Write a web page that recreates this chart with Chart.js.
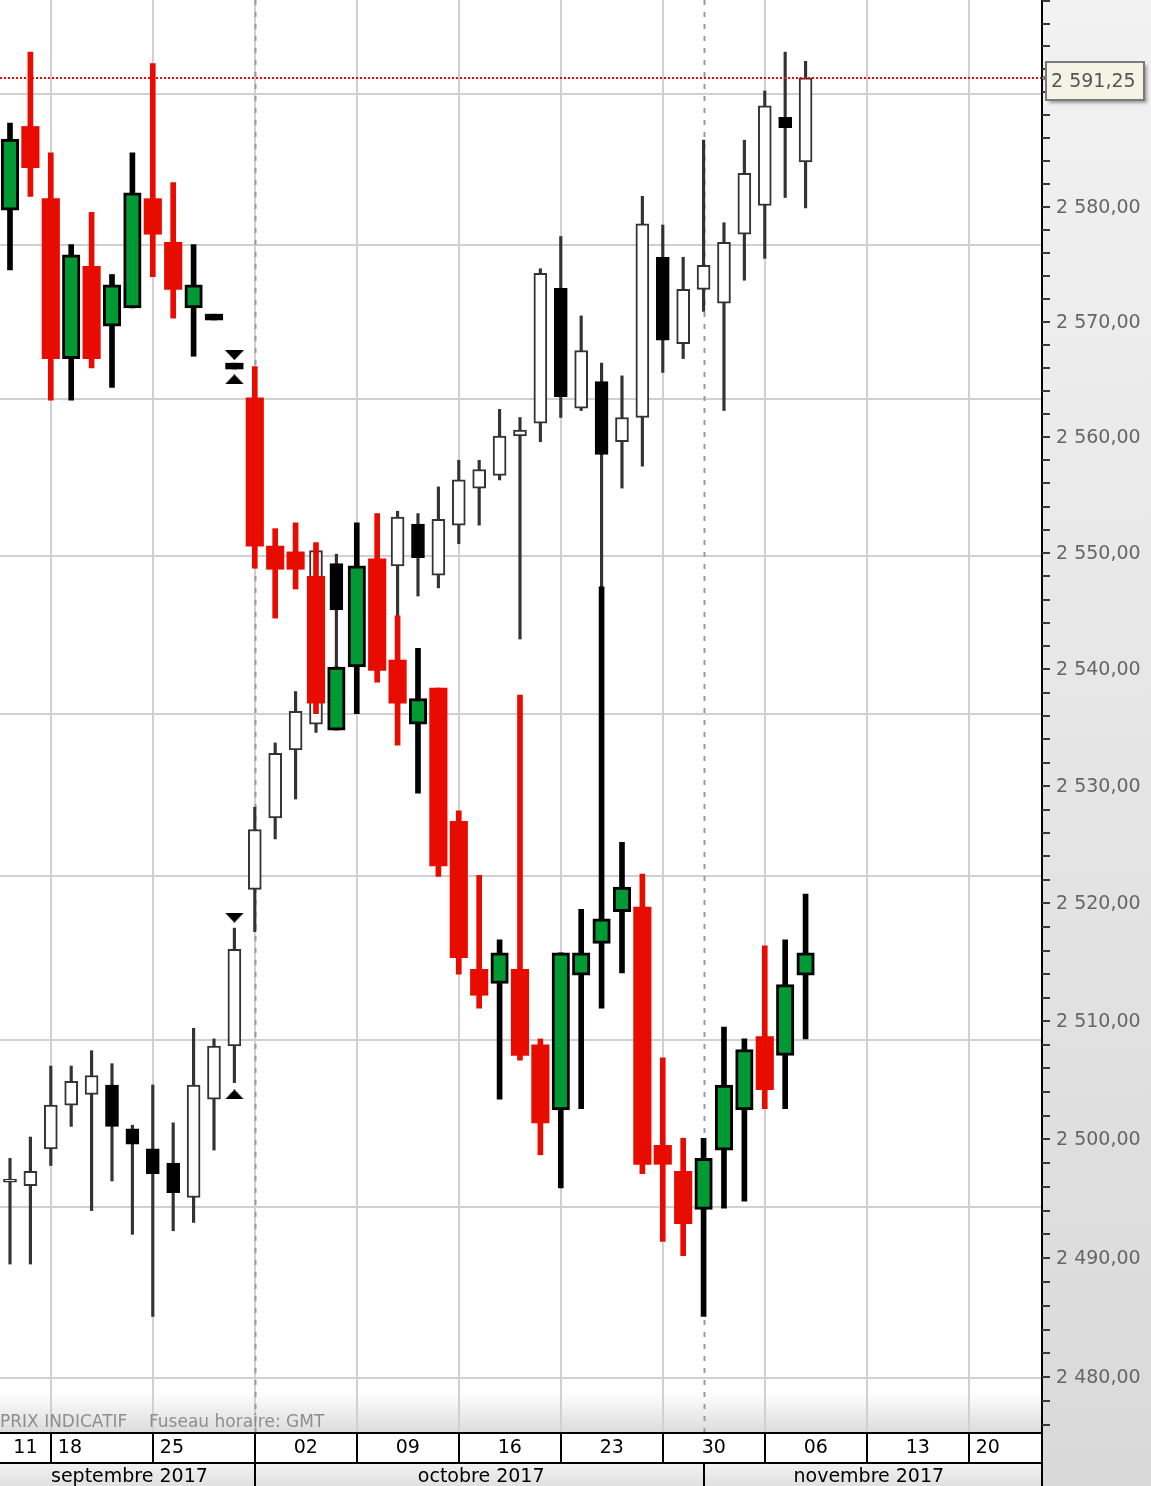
<!DOCTYPE html>
<html>
<head>
<meta charset="utf-8">
<script src="https://cdn.jsdelivr.net/npm/chart.js@4.4.0/dist/chart.umd.min.js"></script>
<style>
    html, body { margin: 0; padding: 0; background: #fff; }
    #wrap { position: relative; width: 1151px; height: 1486px; }
</style>
</head>
<body>
<div id="wrap"><canvas id="chart"></canvas></div>
<script>
// Trading days (index = position on the x axis)
const days = ['14/09','15/09','18/09','19/09','20/09','21/09','22/09','25/09','26/09','27/09',
              '28/09','29/09','02/10','03/10','04/10','05/10','06/10','09/10','10/10','11/10',
              '12/10','13/10','16/10','17/10','18/10','19/10','20/10','23/10','24/10','25/10',
              '26/10','27/10','30/10','31/10','01/11','02/11','03/11','06/11','07/11','08/11'];

// Red / green candles
const rgOpen  = [2579.7,2587.0,2580.7,2566.8,2574.8,2569.6,2571.2,2580.7,2576.9,2571.2,
                 2570.15,2565.9,2563.4,2550.6,2550.1,2548.0,2534.8,2540.2,2549.5,2540.8,
                 2535.3,2538.4,2527.0,2514.4,2513.2,2514.4,2508.0,2502.5,2513.9,2516.6,
                 2519.3,2519.7,2499.5,2497.3,2494.1,2499.1,2502.5,2508.7,2507.1,2513.9];
const rgHigh  = [2587.3,2593.5,2584.7,2576.7,2579.5,2574.1,2584.7,2592.5,2582.1,2576.7,
                 2570.65,2566.4,2566.1,2552.1,2552.6,2550.9,2540.2,2552.6,2553.4,2544.6,
                 2541.8,2538.4,2527.9,2522.4,2516.9,2537.8,2508.5,2515.8,2519.5,2547.1,
                 2525.2,2522.5,2506.9,2500.1,2500.1,2509.5,2508.5,2516.4,2516.9,2520.8];
const rgLow   = [2574.5,2580.9,2563.2,2563.2,2566.0,2564.3,2571.2,2573.9,2570.3,2567.0,
                 2570.15,2565.9,2548.7,2544.4,2546.9,2536.2,2534.8,2536.2,2538.9,2533.5,
                 2529.4,2522.3,2514.0,2511.1,2503.4,2506.7,2498.7,2495.9,2502.6,2511.1,
                 2514.1,2497.1,2491.4,2490.2,2485.1,2494.2,2494.8,2502.6,2502.6,2508.5];
const rgClose = [2585.9,2583.4,2566.8,2575.8,2566.8,2573.2,2581.2,2577.6,2572.8,2573.2,
                 2570.65,2566.4,2550.6,2548.6,2548.6,2537.1,2540.2,2548.9,2539.9,2537.1,
                 2537.5,2523.2,2515.4,2512.2,2515.8,2507.1,2501.4,2515.8,2515.8,2518.7,
                 2521.4,2497.9,2497.9,2492.9,2498.4,2504.6,2507.6,2504.2,2513.1,2515.8];

// Black / white candles
const bwOpen  = [2496.4,2496.1,2499.2,2502.9,2503.8,2504.6,2500.9,2499.2,2498.0,2495.1,
                 2503.4,2507.9,2521.2,2527.3,2533.1,2535.3,2549.1,2544.5,2546.0,2548.9,
                 2552.5,2548.1,2552.4,2555.6,2556.7,2560.1,2561.2,2572.9,2562.5,2564.8,
                 2559.6,2561.7,2575.6,2568.1,2572.8,2571.6,2577.6,2580.1,2587.8,2583.9];
const bwHigh  = [2498.4,2500.2,2506.2,2506.2,2507.5,2506.4,2501.2,2504.6,2501.4,2509.4,
                 2508.5,2517.9,2528.2,2533.7,2538.1,2550.6,2549.9,2548.0,2549.3,2553.6,
                 2553.4,2555.7,2558.0,2558.0,2562.4,2561.7,2574.6,2577.4,2570.5,2566.4,
                 2565.3,2580.9,2578.4,2575.6,2585.8,2578.6,2585.8,2590.1,2593.5,2592.7];
const bwLow   = [2489.5,2489.5,2497.8,2501.1,2494.0,2496.5,2492.0,2485.1,2492.3,2493.0,
                 2499.1,2504.8,2517.6,2525.5,2528.9,2534.6,2540.2,2541.5,2542.0,2544.6,
                 2546.3,2547.0,2550.8,2552.4,2556.3,2542.6,2559.6,2561.7,2562.3,2547.1,
                 2555.6,2557.5,2565.6,2566.8,2570.9,2562.3,2573.6,2575.5,2580.8,2579.9];
const bwClose = [2496.65,2497.3,2502.9,2504.9,2505.4,2501.1,2499.6,2497.1,2495.5,2504.6,
                 2507.9,2516.1,2526.3,2532.8,2536.4,2550.2,2545.1,2547.0,2549.0,2553.1,
                 2549.6,2552.9,2556.3,2557.2,2560.1,2560.6,2574.2,2563.5,2567.5,2558.5,
                 2561.7,2578.5,2568.4,2572.8,2574.9,2576.9,2582.9,2588.8,2586.9,2591.25];

// Signal markers (triangles above / below)
const signalDays   = [11, 11];
const signalAbove  = [2567.1, 2518.8];
const signalBelow  = [2565.0, 2503.8];

// Axis labels
const weekLabels  = ['11','18','25','02','09','16','23','30','06','13','20'];
const weekStart   = [-3, 2, 7, 12, 17, 22, 27, 32, 37, 42, 47];
const monthLabels = ['septembre 2017', 'octobre 2017', 'novembre 2017'];
const monthStart  = [-12, 12, 34];
const gridPrices  = [2589.87, 2576.62, 2563.26, 2549.78, 2536.2, 2522.37, 2508.43, 2494.28, 2479.98];
const priceMin = 2475.42, priceMax = 2598.07;
const lastPrice = bwClose[bwClose.length - 1];

const RED = '#e80c00', GREEN = '#009933';
const FONT = '"DejaVu Sans", Verdana, sans-serif';

function fmtPrice(v) {
    const parts = v.toFixed(2).split('.');
    return parts[0].replace(/\B(?=(\d{3})+(?!\d))/g, ' ') + ',' + parts[1];
}

function triangle(down) {
    const c = document.createElement('canvas');
    c.width = 19; c.height = 10;
    const g = c.getContext('2d');
    g.fillStyle = '#000';
    g.beginPath();
    if (down) { g.moveTo(0, 0); g.lineTo(19, 0); g.lineTo(9.5, 10); }
    else { g.moveTo(9.5, 0); g.lineTo(19, 10); g.lineTo(0, 10); }
    g.closePath();
    g.fill();
    return c;
}

const rgUp = rgClose.map((c, i) => c >= rgOpen[i]);
const bwUp = bwClose.map((c, i) => c >= bwOpen[i]);
// near-flat bodies render as a plain black dash
const rgFlat = rgClose.map((c, i) => Math.abs(c - rgOpen[i]) < 0.7);

function line(ctx, x1, y1, x2, y2) {
    ctx.beginPath();
    ctx.moveTo(x1, y1);
    ctx.lineTo(x2, y2);
    ctx.stroke();
}

// background, grid
const backdrop = {
    id: 'backdrop',
    beforeDraw(chart) {
        const { ctx, chartArea: a, scales: { x, y } } = chart;
        const W = chart.width, H = chart.height;
        ctx.save();
        ctx.fillStyle = '#fff';
        ctx.fillRect(0, 0, W, H);

        let g = ctx.createLinearGradient(0, 0, 0, H);
        g.addColorStop(0, '#f2f2f2');
        g.addColorStop(1, '#d9d9d9');
        ctx.fillStyle = g;
        ctx.fillRect(a.right, 0, W - a.right, H);

        g = ctx.createLinearGradient(0, a.bottom - 40, 0, a.bottom);
        g.addColorStop(0, '#ffffff');
        g.addColorStop(1, '#dcdcdc');
        ctx.fillStyle = g;
        ctx.fillRect(a.left, a.bottom - 40, a.right - a.left, 40);

        ctx.strokeStyle = '#d0d0d0';
        ctx.lineWidth = 2;
        gridPrices.forEach(p => {
            const py = Math.round(y.getPixelForValue(p));
            line(ctx, a.left, py, a.right - 1, py);
        });
        weekStart.forEach(i => {
            const px = Math.round(x.getPixelForValue(i));
            if (px > a.left + 2 && px < a.right - 2) line(ctx, px, a.top, px, a.bottom);
        });

        ctx.strokeStyle = '#9a9a9a';
        ctx.setLineDash([5, 7]);
        monthStart.forEach(i => {
            const px = Math.round(x.getPixelForValue(i)) + 0.5;
            if (px > a.left + 2 && px < a.right - 2) line(ctx, px, a.top, px, a.bottom);
        });
        ctx.setLineDash([]);

        ctx.font = '17px ' + FONT;
        ctx.fillStyle = '#8e8e8e';
        ctx.textBaseline = 'alphabetic';
        ctx.textAlign = 'left';
        ctx.fillText('PRIX INDICATIF', 0, a.bottom - 5);
        ctx.fillText('Fuseau horaire: GMT', 149, a.bottom - 5);
        ctx.restore();
    },
    afterDatasetsDraw(chart) {
        const { ctx, chartArea: a, scales: { y } } = chart;
        const py = Math.round(y.getPixelForValue(lastPrice));
        ctx.save();
        ctx.strokeStyle = '#ff0000';
        ctx.lineWidth = 2;
        ctx.setLineDash([2, 2]);
        line(ctx, a.left, py, a.right, py);
        ctx.restore();
    }
};

// price axis and date rows
const frame = {
    id: 'frame',
    afterDraw(chart) {
        const { ctx, chartArea: a, scales: { x, y } } = chart;
        const W = chart.width, H = chart.height;
        ctx.save();

        // date rows
        const r1 = a.bottom, r2 = a.bottom + 30;
        ctx.fillStyle = '#fff';
        ctx.fillRect(0, r1, a.right, 30);
        const g = ctx.createLinearGradient(0, r2, 0, H);
        g.addColorStop(0, '#f3f3f3');
        g.addColorStop(1, '#e0e0e0');
        ctx.fillStyle = g;
        ctx.fillRect(0, r2, a.right, H - r2);

        ctx.strokeStyle = '#000';
        ctx.lineWidth = 2;
        line(ctx, 0, r1 + 1, a.right, r1 + 1);
        line(ctx, 0, r2 + 1, a.right, r2 + 1);

        ctx.font = '19px ' + FONT;
        ctx.fillStyle = '#000';
        ctx.textBaseline = 'middle';
        const leftAligned = ['18', '25', '20'];
        weekStart.forEach((s, k) => {
            const x0 = Math.max(a.left, x.getPixelForValue(s));
            const x1 = k < weekStart.length - 1 ? Math.min(a.right, x.getPixelForValue(weekStart[k + 1])) : a.right;
            if (x0 > a.left + 2) line(ctx, Math.round(x0), r1, Math.round(x0), r2);
            if (leftAligned.includes(weekLabels[k])) {
                ctx.textAlign = 'left';
                ctx.fillText(weekLabels[k], x0 + 7, r1 + 16);
            } else {
                ctx.textAlign = 'center';
                ctx.fillText(weekLabels[k], (x0 + x1) / 2, r1 + 16);
            }
        });
        monthStart.forEach((s, k) => {
            const x0 = Math.max(a.left, x.getPixelForValue(s));
            const x1 = k < monthStart.length - 1 ? Math.min(a.right, x.getPixelForValue(monthStart[k + 1])) : a.right;
            if (x0 > a.left + 2) line(ctx, Math.round(x0), r2, Math.round(x0), H);
            ctx.textAlign = 'center';
            ctx.fillText(monthLabels[k], (x0 + x1) / 2 + (k === 2 ? -4 : 2), r2 + 15);
        });

        // price axis
        const ax = a.right;
        ctx.strokeStyle = '#000';
        ctx.lineWidth = 2;
        line(ctx, ax, 0, ax, H);
        ctx.strokeStyle = '#3a3a3a';
        ctx.fillStyle = '#666';
        ctx.textAlign = 'left';
        ctx.font = '19px ' + FONT;
        for (let v = Math.ceil(priceMin / 2) * 2; v <= priceMax; v += 2) {
            const py = Math.round(y.getPixelForValue(v));
            line(ctx, ax, py, ax + 8, py);
            if (v % 10 === 0) ctx.fillText(fmtPrice(v), ax + 14, py + 1);
        }

        // last price box
        const py = Math.round(y.getPixelForValue(lastPrice));
        const bx = ax + 4, by = py - 16, bw = 98, bh = 38;
        ctx.shadowColor = 'rgba(0,0,0,0.35)';
        ctx.shadowOffsetX = 3;
        ctx.shadowOffsetY = 3;
        ctx.shadowBlur = 3;
        ctx.fillStyle = '#f5f3e4';
        ctx.fillRect(bx, by, bw, bh);
        ctx.shadowColor = 'transparent';
        ctx.strokeStyle = '#7a7a7a';
        ctx.lineWidth = 2;
        ctx.strokeRect(bx, by, bw, bh);
        ctx.fillStyle = '#7a7a7a';
        ctx.beginPath();
        ctx.moveTo(ax - 1, py);
        ctx.lineTo(bx + 1, py - 4);
        ctx.lineTo(bx + 1, py + 4);
        ctx.closePath();
        ctx.fill();
        ctx.fillStyle = '#555';
        ctx.fillText(fmtPrice(lastPrice), bx + 5, by + bh / 2 + 1);
        ctx.restore();
    }
};

const ctx = document.getElementById('chart').getContext('2d');
Chart.defaults.font.family = FONT;

new Chart(ctx, {
    type: 'bar',
    data: {
        datasets: [
            {
                label: 'bw wick',
                data: days.map((d, i) => ({ x: i, y: [bwLow[i], bwHigh[i]] })),
                backgroundColor: '#333',
                barThickness: 2.5,
                grouped: false,
                order: 6
            },
            {
                label: 'bw body',
                data: days.map((d, i) => ({ x: i, y: [bwOpen[i], bwClose[i]] })),
                backgroundColor: bwUp.map(u => u ? '#fff' : '#000'),
                borderColor: bwUp.map(u => u ? '#333' : '#000'),
                borderWidth: 2,
                borderSkipped: false,
                barThickness: 13,
                grouped: false,
                order: 5
            },
            {
                label: 'rg wick',
                data: days.map((d, i) => ({ x: i, y: [rgLow[i], rgHigh[i]] })),
                backgroundColor: rgUp.map(u => u ? '#000' : RED),
                barThickness: 5,
                grouped: false,
                order: 4
            },
            {
                label: 'rg body',
                data: days.map((d, i) => ({ x: i, y: [rgOpen[i], rgClose[i]] })),
                backgroundColor: rgUp.map((u, i) => rgFlat[i] ? '#000' : (u ? GREEN : RED)),
                borderColor: '#000',
                borderWidth: rgUp.map((u, i) => (u && !rgFlat[i]) ? 3 : 0),
                borderSkipped: false,
                barThickness: 17.5,
                grouped: false,
                order: 3
            },
            {
                type: 'scatter',
                label: 'above',
                data: signalDays.map((d, k) => ({ x: d, y: signalAbove[k] })),
                pointStyle: triangle(true),
                order: 1
            },
            {
                type: 'scatter',
                label: 'below',
                data: signalDays.map((d, k) => ({ x: d, y: signalBelow[k] })),
                pointStyle: triangle(false),
                order: 1
            }
        ]
    },
    options: {
        responsive: true,
        maintainAspectRatio: false,
        animation: false,
        layout: { autoPadding: false, padding: { left: 0, top: 0, right: 109, bottom: 54 } },
        plugins: {
            legend: { display: false },
            tooltip: { enabled: false }
        },
        scales: {
            x: {
                type: 'linear',
                min: -0.49,
                max: 50.59,
                offset: false,
                display: false
            },
            y: {
                type: 'logarithmic',
                min: priceMin,
                max: priceMax,
                bounds: 'data',
                display: false
            }
        }
    },
    plugins: [backdrop, frame]
});
</script>
</body>
</html>
